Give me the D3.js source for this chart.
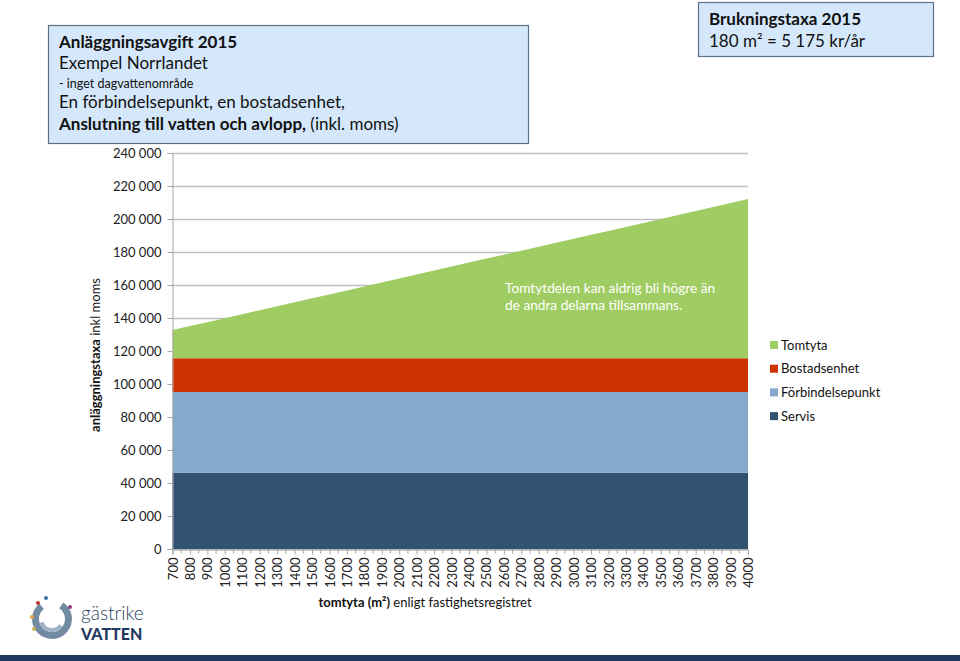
<!DOCTYPE html>
<html><head><meta charset="utf-8">
<script src="https://cdn.jsdelivr.net/npm/d3@7"></script>
<style>
html,body{margin:0;padding:0;background:#fff;}
svg{display:block;font-family:Lato,"Open Sans",sans-serif;}
</style></head><body>
<svg id="c" width="960" height="661"></svg>
<script>
const categories = [700,800,900,1000,1100,1200,1300,1400,1500,1600,1700,1800,1900,2000,2100,2200,2300,2400,2500,2600,2700,2800,2900,3000,3100,3200,3300,3400,3500,3600,3700,3800,3900,4000];
const servis = Array(34).fill(46200);
const forbindelsepunkt = Array(34).fill(48900);
const bostadsenhet = Array(34).fill(20500);
const tomtyta = [17100,19500,21900,24300,26700,29100,31500,33900,36300,38700,41100,43500,45900,48400,50800,53200,55600,58000,60400,62800,65200,67600,70000,72400,74800,77200,79600,82000,84400,86800,89200,91700,94100,96500];
const yTicks = [0,20000,40000,60000,80000,100000,120000,140000,160000,180000,200000,220000,240000];
const seriesNames = ["Servis","Förbindelsepunkt","Bostadsenhet","Tomtyta"];
const colors = {"Servis":"#32536f","Förbindelsepunkt":"#86a8cb","Bostadsenhet":"#cc3300","Tomtyta":"#9fcd63"};
const legendOrder = ["Tomtyta","Bostadsenhet","Förbindelsepunkt","Servis"];

const table = categories.map((c,i)=>({cat:c,"Servis":servis[i],"Förbindelsepunkt":forbindelsepunkt[i],"Bostadsenhet":bostadsenhet[i],"Tomtyta":tomtyta[i]}));

const svg = d3.select("#c");
const x = d3.scaleLinear().domain([700,4000]).range([172.5,748]);
const y = d3.scaleLinear().domain([0,240000]).range([549,153]);
const fmt = v => d3.format(",")(v).replace(/,/g," ");

// gridlines
svg.append("g").selectAll("line").data(yTicks).join("line")
  .attr("x1",172).attr("x2",748).attr("y1",d=>Math.round(y(d))+0.5).attr("y2",d=>Math.round(y(d))+0.5)
  .attr("stroke","#bfbfbf").attr("stroke-width",1.3);

// stacked areas
const stack = d3.stack().keys(seriesNames)(table);
const area = d3.area().x(d=>x(d.data.cat)).y0(d=>y(d[0])).y1(d=>y(d[1]));
svg.append("g").selectAll("path").data(stack).join("path")
  .attr("d",area).attr("fill",d=>colors[d.key]);

// y axis
const yAxis = d3.axisLeft(y).tickValues(yTicks).tickFormat(fmt).tickSize(5).tickPadding(6);
const ya = svg.append("g").attr("transform","translate(172.5,0)").call(yAxis);
ya.select(".domain").attr("stroke","#a6a6a6");
ya.selectAll(".tick line").attr("stroke","#a6a6a6");
ya.selectAll(".tick text").attr("font-size",13).attr("fill","#222").attr("font-family","Lato,'Open Sans',sans-serif");

// x axis
const xAxis = d3.axisBottom(x).tickValues(categories).tickFormat(d=>d).tickSize(5).tickPadding(4);
const xa = svg.append("g").attr("transform","translate(0,549.5)").call(xAxis);
xa.select(".domain").attr("stroke","#a6a6a6");
xa.selectAll(".tick line").attr("stroke","#a6a6a6");
xa.selectAll(".tick text").attr("font-size",13).attr("fill","#222").attr("font-family","Lato,'Open Sans',sans-serif")
  .attr("transform","rotate(-90)").attr("text-anchor","end").attr("x",-8).attr("y",0).attr("dy","0.35em");
// minor ticks between categories
const mids = categories.slice(0,-1).map((c,i)=>(c+categories[i+1])/2);
xa.append("g").selectAll("line").data(mids).join("line")
  .attr("x1",d=>x(d)).attr("x2",d=>x(d)).attr("y1",0).attr("y2",4).attr("stroke","#a6a6a6");

// axis titles
const yt = svg.append("text").attr("transform","translate(100,355) rotate(-90)").attr("text-anchor","middle").attr("font-size",13).attr("fill","#111");
yt.append("tspan").attr("font-weight","bold").text("anläggningstaxa");
yt.append("tspan").text(" inkl moms");
const xt = svg.append("text").attr("x",425).attr("y",607).attr("text-anchor","middle").attr("font-size",13).attr("fill","#111");
xt.append("tspan").attr("font-weight","bold").text("tomtyta (m²)");
xt.append("tspan").text(" enligt fastighetsregistret");

// annotation
svg.append("text").attr("x",505).attr("y",293).attr("font-size",13.7).attr("fill","#fff").text("Tomtytdelen kan aldrig bli högre än");
svg.append("text").attr("x",505).attr("y",310).attr("font-size",13.7).attr("fill","#fff").text("de andra delarna tillsammans.");

// legend
const lg = svg.append("g").selectAll("g").data(legendOrder).join("g")
  .attr("transform",(d,i)=>`translate(770,${345+i*23.7})`);
lg.append("rect").attr("x",0).attr("y",-4).attr("width",8).attr("height",8).attr("fill",d=>colors[d]);
lg.append("text").attr("x",11).attr("y",0).attr("dy","0.35em").attr("font-size",13).attr("fill","#111").text(d=>d);

// title box 1
svg.append("rect").attr("x",48.5).attr("y",25.5).attr("width",480).attr("height",118).attr("fill","#d5e8fb").attr("stroke","#5d7185").attr("stroke-width",1.2);
const t1 = svg.append("g").attr("fill","#111");
t1.append("text").attr("x",59).attr("y",48).attr("font-size",17).attr("font-weight","bold").text("Anläggningsavgift 2015");
t1.append("text").attr("x",59).attr("y",69).attr("font-size",17).text("Exempel Norrlandet");
t1.append("text").attr("x",59).attr("y",88).attr("font-size",12.5).text("- inget dagvattenområde");
t1.append("text").attr("x",59).attr("y",108).attr("font-size",17).text("En förbindelsepunkt, en bostadsenhet,");
const l5 = t1.append("text").attr("x",59).attr("y",130).attr("font-size",17);
l5.append("tspan").attr("font-weight","bold").text("Anslutning till vatten och avlopp,");
l5.append("tspan").text(" (inkl. moms)");

// box 2
svg.append("rect").attr("x",698.5).attr("y",2.5).attr("width",235).attr("height",54).attr("fill","#d5e8fb").attr("stroke","#5d7185").attr("stroke-width",1.2);
svg.append("text").attr("x",709).attr("y",25).attr("font-size",17).attr("font-weight","bold").attr("fill","#111").text("Brukningstaxa 2015");
svg.append("text").attr("x",709).attr("y",47).attr("font-size",17).attr("fill","#111").text("180 m² = 5 175 kr/år");

// logo
const logo = svg.append("g").attr("transform","translate(52,619)");
logo.append("path").attr("d",d3.arc()({innerRadius:13,outerRadius:20,startAngle:0.6,endAngle:5.6})).attr("fill","#5b7593").attr("opacity",0.85);
logo.append("path").attr("d",d3.arc()({innerRadius:9,outerRadius:13,startAngle:2.2,endAngle:4.4})).attr("fill","#9fb3c8");
[[ -14,-16,"#c0392b"],[ -20,-2,"#e8a33d"],[ -18,10,"#c9b458"],[18,-12,"#8e3b7a"],[-6,-21,"#3a6ea5"]].forEach(p=>{
  logo.append("circle").attr("cx",p[0]).attr("cy",p[1]).attr("r",2).attr("fill",p[2]);
});
svg.append("text").attr("x",81).attr("y",620).attr("font-size",19).attr("font-weight",300).attr("fill","#2c4660").text("gästrike");
svg.append("text").attr("x",81).attr("y",640).attr("font-size",16).attr("font-weight",900).attr("fill","#1f3a5f").text("VATTEN");

// bottom bar
svg.append("rect").attr("x",0).attr("y",655).attr("width",960).attr("height",6).attr("fill","#1f3a5f");
</script>
</body></html>
